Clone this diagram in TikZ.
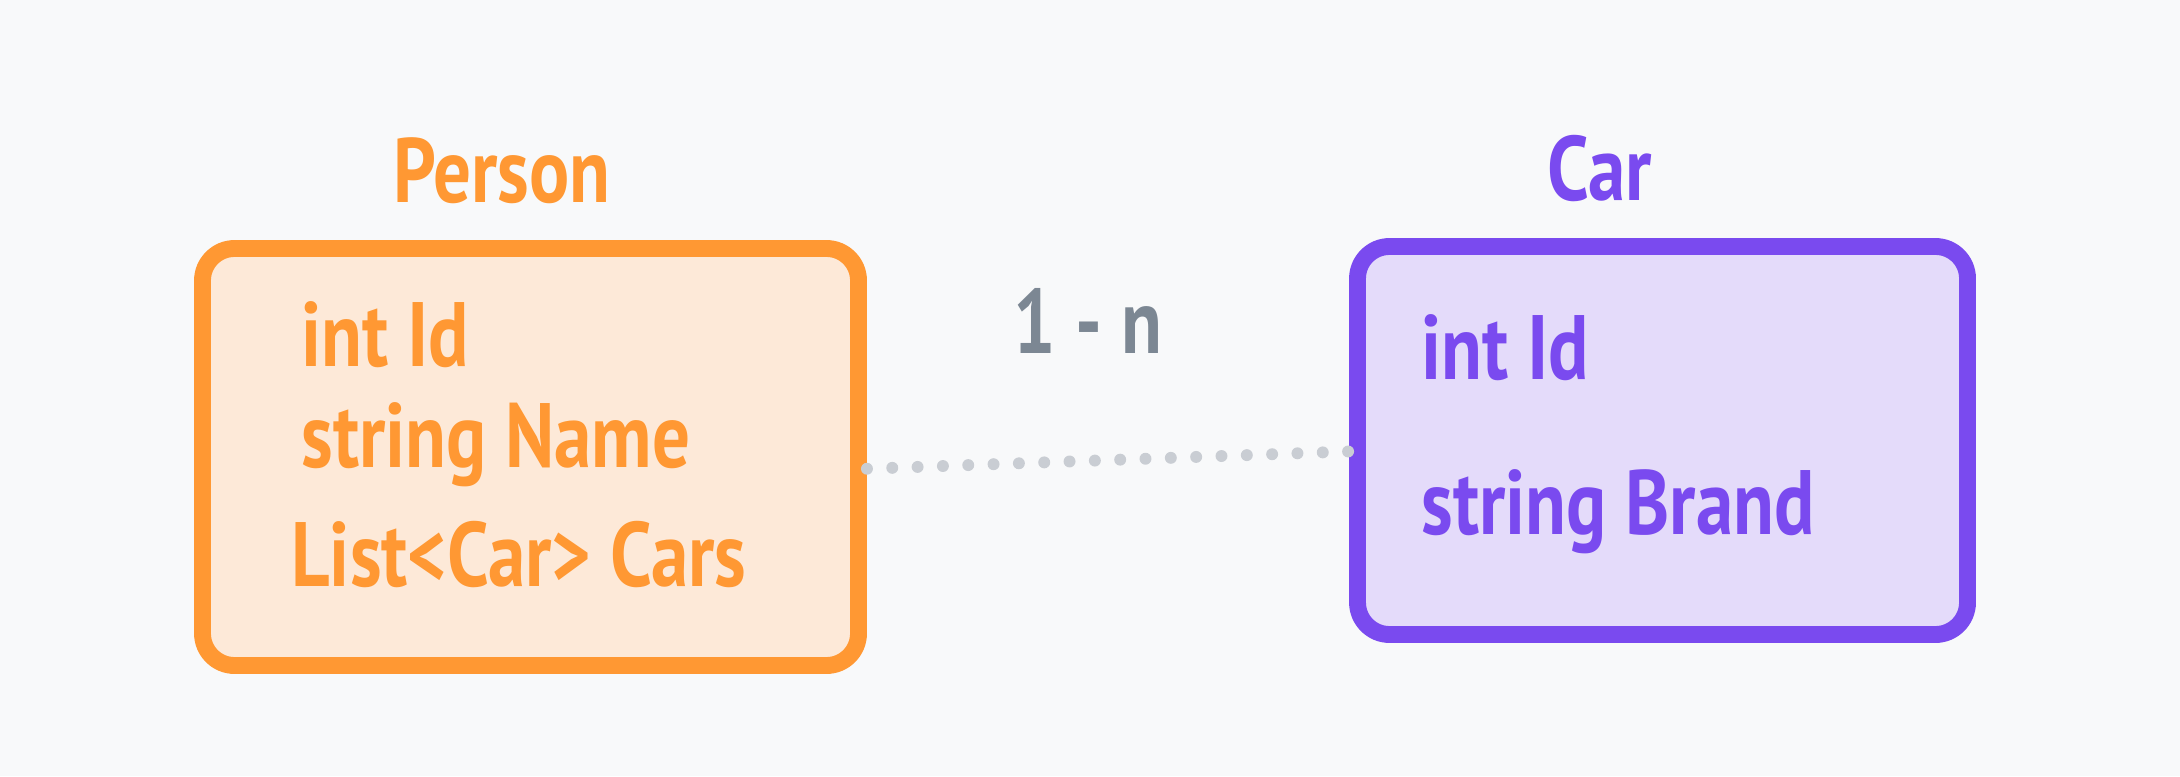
\documentclass[tikz,border=0pt]{standalone}
\usepackage{fontspec}
\setmainfont{PT Sans}[FakeStretch=0.82]
\usepackage{xcolor}
\definecolor{bgpaper}{HTML}{F8F9FA}
\definecolor{personline}{HTML}{FF9833}
\definecolor{personfill}{HTML}{FDE9D8}
\definecolor{carline}{HTML}{7A4AEF}
\definecolor{carfill}{HTML}{E4DBFA}
\definecolor{labelgray}{HTML}{7C8793}
\definecolor{dotgray}{HTML}{C9CDD3}
\usetikzlibrary{positioning}

\begin{document}
\begin{tikzpicture}[thick,entity box/.style={draw,line width=4.8pt,rounded corners=0.32cm,inner sep=0pt},title/.style={font=\bfseries\fontsize{26}{30}\selectfont,anchor=base},field/.style={font=\bfseries\fontsize{26}{30}\selectfont,anchor=base west,inner sep=0pt},link/.style={draw=dotgray,line width=3.4pt,line cap=round,dash pattern=on 0pt off 7.21pt}]
                        \useasboundingbox (0,0) rectangle (21.8,7.76);
                        \fill[bgpaper] (0,0) rectangle (21.8,7.76);

                        \node[entity box,draw=personline,fill=personfill,minimum width=6.56cm,minimum height=4.17cm] (person) at (5.305,3.19) {};
                        \node[entity box,draw=carline,fill=carfill,minimum width=6.10cm,minimum height=3.88cm] (car) at (16.625,3.355) {};

                        \node[title,text=personline] (person title) at (5.02,5.73) {Person};
                        \node[title,text=carline] (car title) at (16.0,5.76) {Car};
                        \node[title,text=labelgray] (mult) at (10.88,4.22) {1 - n};

                        \node[field,text=personline] (person id) at (3.0,4.10) {int Id};
                        \node[field,text=personline] (person name) at (3.0,3.09) {string Name};
                        \node[field,text=personline] (person cars) at (2.9,1.90) {List<Car> Cars};

                        \node[field,text=carline] (car id) at (14.2,3.97) {int Id};
                        \node[field,text=carline] (car brand) at (14.2,2.42) {string Brand};

                        \path[link]
                            (person.-2.4) edge (car.182.2)
                        ;

                    \end{tikzpicture}
\end{document}
